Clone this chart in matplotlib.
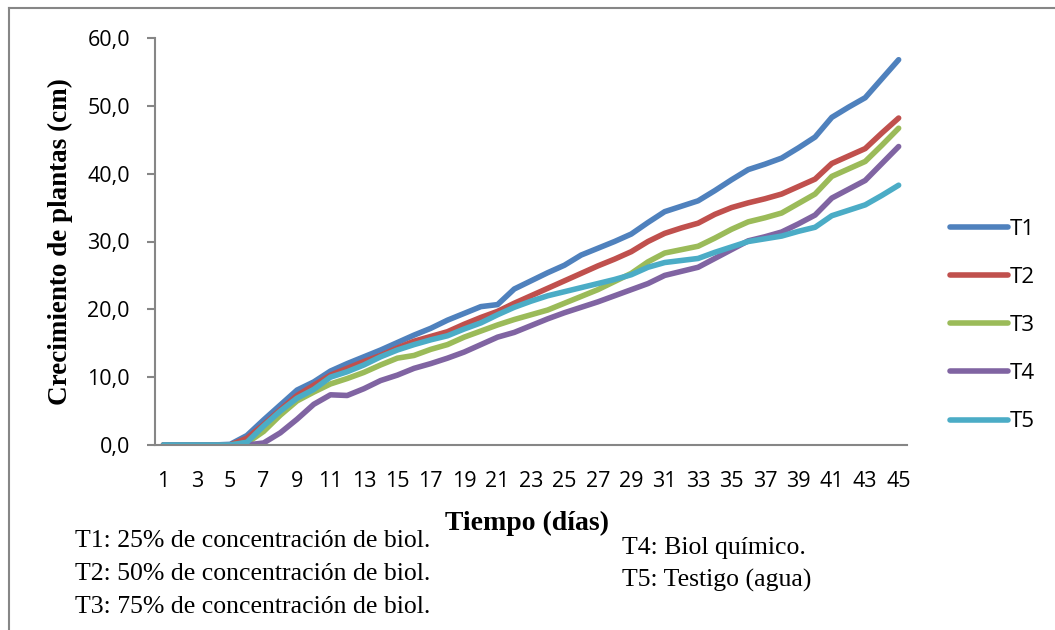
import numpy as np
import matplotlib
matplotlib.use("Agg")
import matplotlib.pyplot as plt
from matplotlib.lines import Line2D

# dias de evaluacion
dias = list(range(1, 46))

# crecimiento (cm)
t1 = [0, 0, 0, 0, 0.1, 1.4, 3.7, 5.9, 8.1, 9.3, 10.9, 12.0, 13.0, 14.0, 15.1,
      16.2, 17.2, 18.4, 19.4, 20.4, 20.7, 23.0, 24.2, 25.4, 26.5, 28.0, 29.0,
      30.0, 31.1, 32.8, 34.4, 35.2, 36.0, 37.5, 39.1, 40.6, 41.4, 42.3, 43.8,
      45.4, 48.3, 49.8, 51.2, 54.0, 56.8]
t2 = [0, 0, 0, 0, 0, 1.0, 3.0, 5.2, 7.3, 8.8, 10.3, 11.3, 12.3, 13.2, 14.3,
      15.3, 16.0, 16.7, 17.8, 18.8, 19.7, 20.9, 22.0, 23.1, 24.2, 25.3, 26.4,
      27.4, 28.5, 30.0, 31.2, 32.0, 32.7, 34.0, 35.0, 35.7, 36.3, 37.0, 38.1,
      39.2, 41.5, 42.6, 43.7, 46.0, 48.2]
t3 = [0, 0, 0, 0, 0, 0.3, 2.0, 4.4, 6.5, 7.8, 9.0, 9.8, 10.7, 11.8, 12.8,
      13.2, 14.1, 14.8, 15.9, 16.8, 17.7, 18.5, 19.2, 19.9, 20.9, 21.9, 22.9,
      24.1, 25.3, 27.0, 28.3, 28.8, 29.3, 30.5, 31.8, 32.9, 33.5, 34.2, 35.6,
      37.0, 39.6, 40.7, 41.8, 44.2, 46.7]
t4 = [0, 0, 0, 0, 0, 0, 0.3, 1.8, 3.8, 6.0, 7.4, 7.3, 8.3, 9.5, 10.3,
      11.3, 12.0, 12.8, 13.7, 14.8, 15.9, 16.6, 17.6, 18.6, 19.5, 20.3, 21.1,
      22.0, 22.9, 23.8, 25.0, 25.6, 26.2, 27.5, 28.8, 30.1, 30.7, 31.4, 32.6,
      33.9, 36.4, 37.7, 39.0, 41.5, 44.0]
t5 = [0, 0, 0, 0, 0, 0.4, 2.8, 5.0, 6.9, 8.2, 10.0, 10.8, 11.8, 13.0, 14.0,
      14.8, 15.5, 16.1, 17.1, 18.0, 19.2, 20.3, 21.2, 22.0, 22.6, 23.2, 23.8,
      24.4, 25.1, 26.2, 26.9, 27.2, 27.5, 28.4, 29.2, 30.0, 30.4, 30.8, 31.5,
      32.1, 33.8, 34.6, 35.4, 36.8, 38.3]

series = [t1, t2, t3, t4, t5]
nombres = ["T1", "T2", "T3", "T4", "T5"]
colores = ["#4F81BD", "#C0504D", "#9BBB59", "#8064A2", "#4BACC6"]

notas_izq = ["T1: 25% de concentración de biol.",
             "T2: 50% de concentración de biol.",
             "T3: 75% de concentración de biol."]
notas_der = ["T4: Biol químico.",
             "T5: Testigo (agua)"]

W, H = 1055, 630
fig = plt.figure(figsize=(W / 100, H / 100), dpi=100)

def fx(px):
    return px / W

def fy(py):
    return 1 - py / H

ax = fig.add_axes([fx(155), fy(445), fx(907) - fx(155), fy(38) - fy(445)])

gris = "#868686"
for vals, nom, col in zip(series, nombres, colores):
    ax.plot(dias, vals, color=col, lw=4, label=nom,
            solid_capstyle="round", solid_joinstyle="round")

ax.set_xlim(0.5, 45.5)
ax.set_ylim(0, 60)
ax.set_xticks(dias[::2])
ax.set_xticklabels([str(d) for d in dias[::2]])
ax.set_yticks(range(0, 61, 10))
ax.set_yticklabels([f"{v:.1f}".replace(".", ",") for v in range(0, 61, 10)])

for s in ["top", "right"]:
    ax.spines[s].set_visible(False)
for s in ["left", "bottom"]:
    ax.spines[s].set_color(gris)
    ax.spines[s].set_linewidth(1.5)

ax.tick_params(axis="x", length=0, pad=19, labelsize=15.5)
ax.tick_params(axis="y", length=6, width=1.5, color=gris, pad=12, labelsize=15.5)
for lab in ax.get_xticklabels() + ax.get_yticklabels():
    lab.set_family("Open Sans")

ax.set_ylabel("Crecimiento de plantas (cm)", family="Liberation Serif",
              fontweight="bold", fontsize=19.5)
ax.yaxis.set_label_coords(fx(73), 0.5 * (fy(38) + fy(445)),
                          transform=fig.transFigure)

fig.text(fx(527), fy(523), "Tiempo (días)", family="Liberation Serif",
         fontweight="bold", fontsize=20, ha="center", va="center")

leg = ax.legend(loc="upper left", bbox_to_anchor=(fx(941), fy(210)),
                bbox_transform=fig.transFigure, frameon=False,
                prop={"family": "Open Sans", "size": 16},
                handlelength=2.6, handletextpad=0.1, labelspacing=1.22,
                borderaxespad=0)
for h in leg.get_lines():
    h.set_solid_capstyle("round")

for t, yb in zip(notas_izq, [547, 580, 613]):
    fig.text(fx(75), fy(yb), t, family="Liberation Serif",
             fontsize=18.5, ha="left", va="baseline")
for t, yb in zip(notas_der, [554, 587]):
    fig.text(fx(622), fy(yb), t, family="Liberation Serif",
             fontsize=18.5, ha="left", va="baseline")

# marco del area del grafico
fig.add_artist(Line2D([fx(9), fx(1055)], [fy(8), fy(8)], color=gris, lw=1.5))
fig.add_artist(Line2D([fx(9), fx(9)], [fy(8), fy(630)], color=gris, lw=1.5))

fig.savefig("out.png", dpi=100)
